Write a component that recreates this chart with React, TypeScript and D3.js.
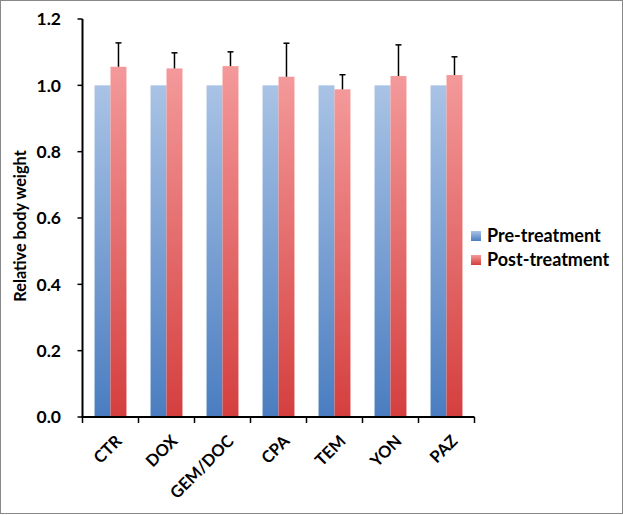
import React from "react";
import * as d3 from "d3";

const categories = ["CTR", "DOX", "GEM/DOC", "CPA", "TEM", "YON", "PAZ"];
const preValues = [1, 1, 1, 1, 1, 1, 1];
const postValues = [1.056, 1.051, 1.058, 1.026, 0.988, 1.028, 1.031];
const postErrors = [0.072, 0.047, 0.043, 0.101, 0.044, 0.094, 0.055];
const yTicks = [0, 0.2, 0.4, 0.6, 0.8, 1.0, 1.2];
const seriesNames = ["Pre-treatment", "Post-treatment"];

const W = 624;
const H = 515;
const FONT = "Lato, 'Open Sans', sans-serif";

export default function App() {
  const x0 = 82.5;
  const x1 = 474.5;
  const yTop = 19;
  const yBot = 417;
  const x = d3.scaleBand<string>().domain(categories).range([x0, x1]).paddingInner(0).paddingOuter(0);
  const y = d3.scaleLinear().domain([0, 1.2]).range([yBot, yTop]);
  const bw = x.bandwidth();
  const barW = bw * 0.285;
  const series = [preValues, postValues];

  return (
    <svg width={W} height={H} style={{ position: "absolute", left: 0, top: 0, background: "#fff" }}>
      <defs>
        <linearGradient id="gPre" x1="0" y1="0" x2="0" y2="1">
          <stop offset="0" stopColor="#a9c3e5" />
          <stop offset="1" stopColor="#4a7dc0" />
        </linearGradient>
        <linearGradient id="gPost" x1="0" y1="0" x2="0" y2="1">
          <stop offset="0" stopColor="#f4999a" />
          <stop offset="1" stopColor="#d43f3e" />
        </linearGradient>
      </defs>
      <rect x={0.5} y={0.5} width={W - 2} height={H - 2} fill="#fff" stroke="#888" strokeWidth={1} />

      {categories.map((c, i) => {
        const cx = (x(c) as number) + bw / 2;
        return (
          <g key={c}>
            {series.map((vals, s) => {
              const bx = cx - barW + s * barW;
              return (
                <rect
                  key={s}
                  x={bx}
                  y={y(vals[i])}
                  width={barW}
                  height={yBot - y(vals[i])}
                  fill={s === 0 ? "url(#gPre)" : "url(#gPost)"}
                />
              );
            })}
            {(() => {
              const ex = cx + barW / 2;
              const top = y(postValues[i] + postErrors[i]);
              return (
                <g stroke="#000" strokeWidth={1.5}>
                  <line x1={ex} x2={ex} y1={y(postValues[i])} y2={top} />
                  <line x1={ex - 3} x2={ex + 3} y1={top} y2={top} />
                </g>
              );
            })()}
          </g>
        );
      })}

      {/* y axis */}
      <line x1={x0} x2={x0} y1={yTop} y2={yBot} stroke="#000" strokeWidth={2} />
      {yTicks.map((t) => (
        <g key={t}>
          <line x1={x0 - 5} x2={x0} y1={y(t)} y2={y(t)} stroke="#000" strokeWidth={1.5} />
          <text
            x={61}
            y={y(t)}
            dy="0.36em"
            textAnchor="end"
            fontFamily={FONT}
            fontWeight="bold"
            fontSize={17.5}
          >
            {d3.format(".1f")(t)}
          </text>
        </g>
      ))}
      <text
        transform={`translate(26,${(yTop + yBot) / 2 + 8}) rotate(-90)`}
        textAnchor="middle"
        fontFamily={FONT}
        fontWeight="bold"
        fontSize={16.3}
      >
        Relative body weight
      </text>

      {/* x axis */}
      <line x1={x0 - 1} x2={x1} y1={yBot} y2={yBot} stroke="#000" strokeWidth={2} />
      {[...categories.map((c) => x(c) as number), x1].map((t, i) => (
        <line key={i} x1={t} x2={t} y1={yBot} y2={yBot + 6} stroke="#000" strokeWidth={1.5} />
      ))}
      {categories.map((c) => {
        const cx = (x(c) as number) + bw / 2;
        return (
          <text
            key={c}
            transform={`translate(${cx + 4},${yBot + 17}) rotate(-45)`}
            textAnchor="end"
            dy="0.7em"
            fontFamily={FONT}
            fontWeight="bold"
            fontSize={16.5}
          >
            {c}
          </text>
        );
      })}

      {/* legend */}
      {seriesNames.map((n, i) => (
        <g key={n} transform={`translate(471,${236 + i * 24})`}>
          <rect x={0} y={-5} width={10} height={10} fill={i === 0 ? "url(#gPre)" : "url(#gPost)"} />
          <text x={16} y={0} dy="0.36em" fontFamily={FONT} fontWeight="bold" fontSize={18}>
            {n}
          </text>
        </g>
      ))}
    </svg>
  );
}
